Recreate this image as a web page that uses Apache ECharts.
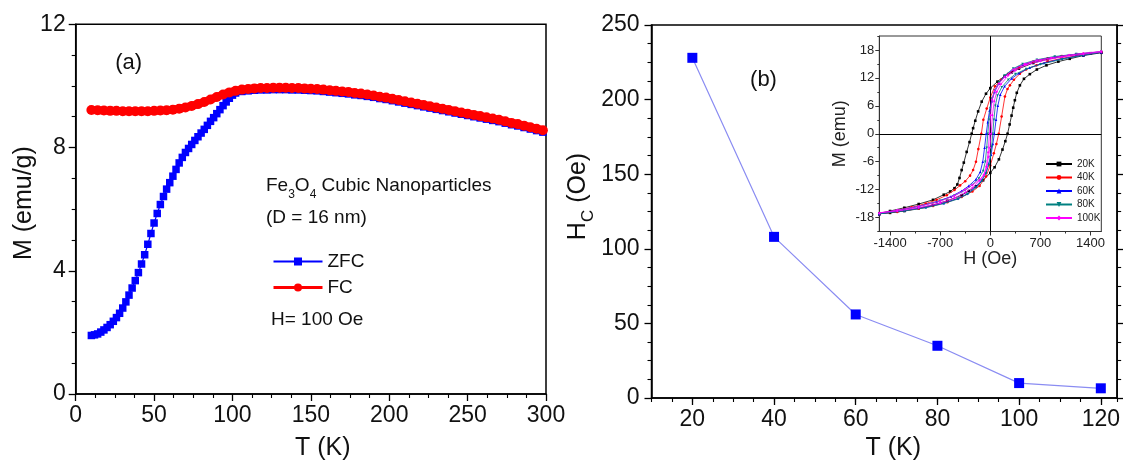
<!DOCTYPE html>
<html><head><meta charset="utf-8">
<script src="https://cdn.jsdelivr.net/npm/echarts@6/dist/echarts.min.js"></script>
<style>html,body{margin:0;padding:0;background:#fff}#c{width:1123px;height:466px}</style>
</head><body><div id="c"></div>
<script>
// ---------- Panel (a): ZFC / FC ----------
const zfcT = [10,12,14,16,18,20,22,24,26,28,30,32,34,36,38,40,42,44,46,48,50,52,54,56,58,60,62,64,66,68,70,72,74,76,78,80,82,84,86,88,90,92,94,96,98,100,
  102,106,110,114,118,122,126,130,134,138,142,146,150,154,158,162,166,170,174,178,182,186,190,194,198,202,206,210,214,218,222,226,230,234,238,242,246,250,254,258,262,266,270,274,278,282,286,290,294,298];
const zfcM = [1.90,1.92,1.95,2.01,2.08,2.16,2.25,2.36,2.48,2.62,2.79,2.99,3.21,3.44,3.68,3.94,4.22,4.52,4.86,5.21,5.55,5.86,6.15,6.41,6.65,6.86,7.07,7.29,7.50,7.68,7.84,7.97,8.10,8.23,8.35,8.47,8.59,8.72,8.85,8.97,9.10,9.23,9.36,9.48,9.60,9.70,
  9.77,9.82,9.84,9.86,9.87,9.87,9.88,9.88,9.88,9.87,9.87,9.86,9.85,9.84,9.82,9.80,9.78,9.76,9.74,9.71,9.69,9.66,9.63,9.59,9.56,9.52,9.48,9.44,9.40,9.36,9.32,9.28,9.24,9.20,9.16,9.12,9.08,9.04,9.00,8.96,8.92,8.88,8.84,8.79,8.74,8.70,8.65,8.60,8.55,8.50];
const fcT = [10,14,18,22,26,30,34,38,42,46,50,54,58,62,66,70,74,78,82,86,90,94,98,102,106,110,114,118,122,126,130,134,138,142,146,150,154,158,162,166,170,174,178,182,186,190,194,198,202,206,210,214,218,222,226,230,234,238,242,246,250,254,258,262,266,270,274,278,282,286,290,294,298];
const fcM = [9.22,9.21,9.20,9.19,9.19,9.18,9.18,9.18,9.18,9.18,9.19,9.20,9.21,9.23,9.26,9.30,9.35,9.41,9.48,9.56,9.64,9.72,9.79,9.84,9.88,9.90,9.92,9.93,9.93,9.94,9.94,9.94,9.93,9.93,9.92,9.91,9.90,9.88,9.86,9.84,9.82,9.80,9.77,9.75,9.72,9.69,9.65,9.62,9.58,9.54,9.50,9.46,9.42,9.38,9.34,9.30,9.26,9.22,9.18,9.14,9.10,9.06,9.02,8.98,8.94,8.90,8.85,8.80,8.76,8.71,8.66,8.61,8.56];

// ---------- Panel (b): coercivity ----------
const hcT = [20,40,60,80,100,120];
const hcV = [228,108,56,35,10,6.5];
const xLabelsB = [20,40,60,80,100,120];

// ---------- Inset: hysteresis loops (descending / ascending branches) ----------
const loop20Down = [[1550,17.5],[1400,17.3],[1200,17.0],[1000,16.6],[800,16.0],[600,15.2],[400,14.0],[300,13.2],[200,12.4],[100,11.2],[0,9.8],[-60,8.6],[-120,6.9],[-170,4.8],[-210,2.8],[-240,1.2],[-260,0],[-290,-1.8],[-330,-3.9],[-370,-6.2],[-400,-7.8],[-430,-9.5],[-460,-10.9],[-500,-11.7],[-560,-12.4],[-650,-13.1],[-800,-14.2],[-1000,-15.1],[-1200,-15.9],[-1400,-16.6],[-1550,-17.1]];
const loop20Up = [[-1550,-17.3],[-1400,-17.0],[-1200,-16.6],[-1000,-16.0],[-800,-15.3],[-600,-14.4],[-400,-13.2],[-300,-12.3],[-200,-11.3],[-100,-10.0],[0,-8.4],[60,-7.2],[120,-5.5],[170,-3.4],[210,-1.6],[241,0],[270,2.0],[297,3.9],[320,5.6],[343,7.2],[370,8.8],[413,10.4],[470,11.8],[552,12.8],[650,13.8],[784,14.7],[950,15.5],[1109,16.1],[1300,16.8],[1550,17.4]];
const loop40Down = [[1550,17.6],[1300,17.2],[1000,16.7],[800,16.2],[600,15.5],[400,14.3],[250,12.9],[150,11.6],[65,10.2],[0,7.8],[-50,5.4],[-97,3.0],[-125,0],[-167,-3.3],[-200,-6.0],[-240,-7.8],[-283,-9.0],[-350,-10.2],[-422,-11.1],[-500,-12.1],[-608,-13.2],[-750,-14.2],[-900,-15.0],[-1100,-15.8],[-1300,-16.5],[-1550,-17.2]];
const loop40Up = [[-1550,-17.3],[-1300,-16.8],[-1000,-16.1],[-800,-15.5],[-600,-14.7],[-400,-13.6],[-250,-12.4],[-150,-11.2],[-60,-9.2],[0,-6.8],[50,-4.2],[85,-2.2],[118,0],[158,3.7],[204,8.0],[240,9.6],[274,10.4],[330,11.6],[413,12.9],[500,13.8],[645,14.7],[800,15.5],[1000,16.2],[1300,17.0],[1550,17.5]];
const loop60Down = [[1550,17.6],[1200,17.1],[900,16.5],[650,15.8],[450,14.8],[320,13.8],[200,12.3],[120,10.8],[60,9.0],[20,7.0],[-10,5.0],[-35,2.5],[-57,0],[-80,-3.0],[-105,-6.0],[-140,-8.2],[-200,-9.8],[-300,-11.2],[-400,-12.3],[-550,-13.5],[-750,-14.6],[-1000,-15.6],[-1300,-16.5],[-1550,-17.2]];
const loop60Up = [[-1550,-17.3],[-1200,-16.5],[-900,-15.8],[-650,-14.9],[-450,-13.9],[-320,-12.9],[-200,-11.4],[-120,-10.0],[-60,-8.3],[-20,-6.4],[10,-4.5],[35,-2.2],[57,0],[80,3.0],[105,6.0],[140,8.4],[200,10.2],[300,11.9],[400,13.0],[550,14.2],[750,15.2],[1000,16.1],[1300,16.9],[1550,17.5]];
const loop80Down = [[1550,17.6],[1200,17.1],[900,16.6],[650,15.9],[450,15.0],[320,14.0],[200,12.5],[120,11.0],[60,9.3],[25,7.5],[0,5.5],[-18,3.0],[-35,0],[-50,-3.0],[-70,-6.0],[-100,-8.0],[-160,-9.6],[-250,-11.0],[-350,-12.1],[-500,-13.3],[-700,-14.4],[-1000,-15.6],[-1300,-16.5],[-1550,-17.2]];
const loop80Up = [[-1550,-17.3],[-1200,-16.6],[-900,-15.9],[-650,-15.0],[-450,-14.0],[-320,-13.0],[-200,-11.6],[-120,-10.2],[-60,-8.5],[-25,-6.8],[0,-5.0],[18,-2.8],[35,0],[50,3.0],[70,6.0],[100,8.2],[160,10.0],[250,11.6],[350,12.8],[500,13.9],[700,14.9],[1000,16.0],[1300,16.9],[1550,17.5]];
const loop100Down = [[1550,17.7],[1300,17.3],[1100,16.9],[850,16.3],[650,15.8],[480,15.0],[320,13.8],[200,12.2],[120,10.8],[60,9.2],[25,7.3],[5,4.0],[-12,0],[-30,-4.0],[-55,-7.0],[-90,-8.8],[-150,-9.9],[-250,-11.0],[-350,-12.0],[-500,-13.3],[-700,-14.5],[-1000,-15.6],[-1300,-16.4],[-1550,-17.0]];
const loop100Up = [[-1550,-17.1],[-1300,-16.6],[-1000,-15.9],[-700,-14.9],[-500,-13.8],[-350,-12.6],[-250,-11.6],[-150,-10.1],[-90,-8.9],[-50,-7.2],[-25,-5.0],[-5,-3.0],[12,0],[30,4.0],[55,7.0],[90,9.0],[150,10.7],[250,12.5],[350,13.6],[500,14.8],[700,15.6],[1000,16.5],[1300,17.1],[1550,17.6]];
const loopNames = ['20K','40K','60K','80K','100K'];
const loopColors = ['#000000','#ff0000','#0000ff','#008080','#ff00ff'];
const loopSymbols = ['rect','circle','triangle','triangle','diamond'];
const loopRot = [0,0,0,180,0];
const loopData = [loop20Down.concat(loop20Up), loop40Down.concat(loop40Up), loop60Down.concat(loop60Up), loop80Down.concat(loop80Up), loop100Down.concat(loop100Up)];
const insetXLabels = [-1400,-700,0,700,1400];
const insetXMinor = [-1400,-1050,-700,-350,0,350,700,1050,1400];
const insetYLabels = [-18,-12,-6,0,6,12,18];

const FONT = 'Liberation Sans, Arial, sans-serif';
const TXT = '#111';
const axisLineStyle = {color:'#000', width:1.5};
const plain = v => String(v);

function mainAxisBase() {
  return {
    type:'value', splitLine:{show:false},
    axisLine:{show:true, onZero:false, lineStyle:axisLineStyle},
    axisTick:{show:true, inside:false, length:7, lineStyle:{color:'#000', width:1.3}},
    minorTick:{show:true, splitNumber:4, length:4, lineStyle:{color:'#000', width:1.1}},
    axisLabel:{fontSize:23, color:TXT, margin:10, fontFamily:FONT},
    nameTextStyle:{fontSize:25, color:TXT, fontFamily:FONT}
  };
}

const series = [
  {type:'line', name:'ZFC', xAxisIndex:0, yAxisIndex:0,
   data: zfcT.map((t,i)=>[t, zfcM[i]]),
   symbol:'rect', symbolSize:7.5, itemStyle:{color:'#0000ff'}, lineStyle:{color:'#0000ff', width:1.2}, z:2},
  {type:'line', name:'FC', xAxisIndex:0, yAxisIndex:0,
   data: fcT.map((t,i)=>[t, fcM[i]]),
   symbol:'circle', symbolSize:10, itemStyle:{color:'#ff0000'}, lineStyle:{color:'#ff0000', width:8}, z:3},
  {type:'line', name:'Hc', xAxisIndex:1, yAxisIndex:1,
   data: hcT.map((t,i)=>[t, hcV[i]]),
   symbol:'rect', symbolSize:10, itemStyle:{color:'#0000ff'}, lineStyle:{color:'#8a8cf2', width:1.2}}
];
loopNames.forEach((n,k)=>{
  const s = {type:'line', name:n, xAxisIndex:3, yAxisIndex:3, data:loopData[k],
    symbol:loopSymbols[k], symbolRotate:loopRot[k], symbolSize:2.6,
    itemStyle:{color:loopColors[k]}, lineStyle:{color:loopColors[k], width:0.8}, z:3+k};
  if (k===0) {
    s.markLine = {silent:true, symbol:['none','none'], label:{show:false}, animation:false,
      lineStyle:{color:'#000', width:1, type:'solid'}, data:[{xAxis:0},{yAxis:0}]};
  }
  series.push(s);
});

const option = {
  animation:false,
  textStyle:{fontFamily:FONT},
  grid:[
    {left:75.7, top:24.3, width:470.3, height:373.4, show:true, borderColor:'#000', borderWidth:1.5, backgroundColor:'transparent'},
    {left:651.5, top:25, width:467, height:373, show:true, borderColor:'#000', borderWidth:1.5, backgroundColor:'transparent'},
    {left:879.3, top:36, width:222, height:195.5, show:true, borderColor:'#333', borderWidth:1, backgroundColor:'#fff'}
  ],
  xAxis:[
    Object.assign(mainAxisBase(), {gridIndex:0, min:0, max:300, interval:50,
      name:'T (K)', nameLocation:'middle', nameGap:42,
      nameTextStyle:{fontSize:25, color:TXT, fontFamily:FONT, padding:[0,0,0,24]}}),
    Object.assign(mainAxisBase(), {gridIndex:1, min:10, max:124, minorTick:{show:false},
      axisLabel:{fontSize:23, color:TXT, margin:10, fontFamily:FONT, customValues:xLabelsB},
      axisTick:{show:true, length:7, lineStyle:{color:'#000', width:1.3}, customValues:xLabelsB},
      name:'T (K)', nameLocation:'middle', nameGap:36,
      nameTextStyle:{fontSize:25, color:TXT, fontFamily:FONT, padding:[0,0,0,18]}}),
    {type:'value', gridIndex:1, min:10, max:124, interval:5, position:'bottom',
      axisLine:{show:false, onZero:false}, splitLine:{show:false}, axisLabel:{show:false},
      axisTick:{show:true, length:4, lineStyle:{color:'#000', width:1.1}}},
    {type:'value', gridIndex:2, min:-1550, max:1550, splitLine:{show:false},
      axisLine:{show:true, onZero:false, lineStyle:{color:'#333', width:1}},
      axisLabel:{fontSize:13, color:'#222', margin:5, fontFamily:FONT, customValues:insetXLabels, formatter:plain},
      axisTick:{show:true, length:4, lineStyle:{color:'#333'}, customValues:insetXLabels},
      name:'H (Oe)', nameLocation:'middle', nameGap:18,
      nameTextStyle:{fontSize:18, color:'#222', fontFamily:FONT}},
    {type:'value', gridIndex:2, min:-1550, max:1550, position:'bottom',
      axisLine:{show:false, onZero:false}, splitLine:{show:false}, axisLabel:{show:false},
      axisTick:{show:true, length:2, lineStyle:{color:'#333'}, customValues:insetXMinor}}
  ],
  yAxis:[
    Object.assign(mainAxisBase(), {gridIndex:0, min:0, max:12, interval:4,
      name:'M (emu/g)', nameLocation:'middle', nameGap:36,
      nameTextStyle:{fontSize:25, color:TXT, fontFamily:FONT, padding:[0,0,0,12]}}),
    Object.assign(mainAxisBase(), {gridIndex:1, min:0, max:250, interval:50,
      axisLabel:{fontSize:23, color:TXT, margin:12, fontFamily:FONT},
      name:'{n|H}{s|C}{n| (Oe)}', nameLocation:'middle', nameGap:52,
      nameTextStyle:{fontSize:25, color:TXT, fontFamily:FONT, padding:[0,0,0,30],
        rich:{n:{fontSize:25, lineHeight:28, verticalAlign:'top', fontFamily:FONT, color:TXT},
              s:{fontSize:17, lineHeight:17, verticalAlign:'top', padding:[15,0,0,0], fontFamily:FONT, color:TXT}}}}),
    Object.assign(mainAxisBase(), {gridIndex:1, min:0, max:250, interval:50, position:'right',
      axisLabel:{show:false}}),
    {type:'value', gridIndex:2, min:-21, max:21, splitLine:{show:false},
      axisLine:{show:true, onZero:false, lineStyle:{color:'#333', width:1}},
      axisLabel:{fontSize:13, color:'#222', margin:5, fontFamily:FONT, customValues:insetYLabels, formatter:plain},
      axisTick:{show:true, length:4, lineStyle:{color:'#333'}, customValues:insetYLabels},
      name:'M (emu)', nameLocation:'middle', nameGap:30,
      nameTextStyle:{fontSize:18, color:'#222', fontFamily:FONT}},
    {type:'value', gridIndex:2, min:-21, max:21, interval:3, position:'left',
      axisLine:{show:false, onZero:false}, splitLine:{show:false}, axisLabel:{show:false},
      axisTick:{show:true, length:2, lineStyle:{color:'#333'}}}
  ],
  legend:[
    {data:['ZFC', {name:'FC', lineStyle:{width:3, color:'#ff0000'}}],
     orient:'vertical', left:267, top:247, itemWidth:49, itemHeight:10, itemGap:7,
     textStyle:{fontSize:19, color:TXT, lineHeight:19, fontFamily:FONT}, selectedMode:false},
    {data:loopNames, orient:'vertical', left:1040, top:154, itemWidth:26, itemHeight:6, itemGap:3.5,
     textStyle:{fontSize:10, color:'#222', lineHeight:10, fontFamily:FONT}, selectedMode:false}
  ],
  graphic:[
    {type:'text', x:128.6, y:63, style:{text:'(a)', fontSize:22, fontFamily:FONT, fill:TXT, align:'center', verticalAlign:'middle'}},
    {type:'text', x:763.5, y:80, style:{text:'(b)', fontSize:22, fontFamily:FONT, fill:TXT, align:'center', verticalAlign:'middle'}},
    {type:'text', x:266, y:176, style:{text:'{n|Fe}{s|3}{n|O}{s|4}{n| Cubic Nanoparticles}', align:'left', verticalAlign:'top',
      rich:{n:{fontSize:19, lineHeight:22, verticalAlign:'top', fontFamily:FONT, fill:TXT},
            s:{fontSize:12, lineHeight:12, verticalAlign:'top', padding:[13,0,0,0], fontFamily:FONT, fill:TXT}}}},
    {type:'text', x:266, y:217.5, style:{text:'(D = 16 nm)', fontSize:19, fontFamily:FONT, fill:TXT, align:'left', verticalAlign:'middle'}},
    {type:'text', x:271, y:319.3, style:{text:'H= 100 Oe', fontSize:19, fontFamily:FONT, fill:TXT, align:'left', verticalAlign:'middle'}}
  ],
  series: series
};
const chart = echarts.init(document.getElementById('c'), null, {renderer:'canvas'});
chart.setOption(option);
</script></body></html>
